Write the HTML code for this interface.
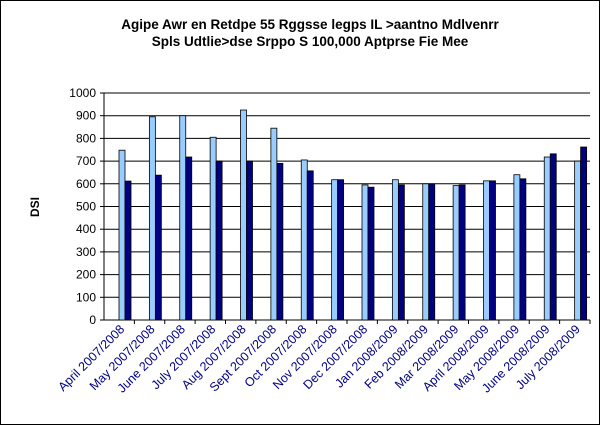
<!DOCTYPE html>
<html><head><meta charset="utf-8"><style>
html,body{margin:0;padding:0;background:#fff}
svg{display:block;font-family:"Liberation Sans",Arial,sans-serif}
</style></head><body>
<svg id="c" width="600" height="425">
<rect x="0.5" y="0.5" width="599" height="424" fill="#fff" stroke="#000"/>
<text x="310" y="29" text-anchor="middle" font-size="13.5" font-weight="bold">Agipe Awr en Retdpe 55 Rggsse legps IL &gt;aantno Mdlvenrr</text>
<text x="310" y="46" text-anchor="middle" font-size="13.5" font-weight="bold">Spls Udtlie&gt;dse Srppo S 100,000 Aptprse Fie Mee</text>
<text transform="translate(39,207) rotate(-90)" text-anchor="middle" font-size="12" font-weight="bold">DSI</text>
<g id="g"></g>
</svg>
<script>
const categories=["April 2007/2008","May 2007/2008","June 2007/2008","July 2007/2008","Aug 2007/2008","Sept 2007/2008","Oct 2007/2008","Nov 2007/2008","Dec 2007/2008","Jan 2008/2009","Feb 2008/2009","Mar 2008/2009","April 2008/2009","May 2008/2009","June 2008/2009","July 2008/2009"];
const seriesA=[748,895,900,805,925,845,705,618,595,618,600,592,613,640,718,700];
const seriesB=[612,638,718,700,700,690,657,618,585,595,600,595,613,622,732,762];
const yTicks=[0,100,200,300,400,500,600,700,800,900,1000];
const NS="http://www.w3.org/2000/svg",g=document.getElementById('g');
const x0=104,x1=590,y0=320,y1=93,cw=(x1-x0)/categories.length;
const y=v=>y0-(v/1000)*(y0-y1);
function mk(t,a){const e=document.createElementNS(NS,t);for(const k in a)e.setAttribute(k,a[k]);g.appendChild(e);return e;}
yTicks.forEach(v=>{
 if(v>0){const l=mk('line',{x1:x0,x2:x1,y1:y(v),y2:y(v),stroke:'#000'});
 
 }
 const tk=mk('line',{x1:x0-4,x2:x0,y1:y(v),y2:y(v),stroke:'#000'});
 
 
 const t=mk('text',{x:x0-8,y:y(v)+4,'text-anchor':'end','font-size':12});t.textContent=v;
 
 
});
const ya=mk('line',{x1:x0,x2:x0,y1:y1,y2:y0,stroke:'#000'});


const xa=mk('line',{x1:x0,x2:x1,y1:y0,y2:y0,stroke:'#000'});


categories.forEach((c,i)=>{
 const cx=x0+i*cw;
 const tk=mk('line',{x1:cx+cw,x2:cx+cw,y1:y0,y2:y0+4,stroke:'#000'});
 
 
 const a=mk('rect',{x:cx+15,y:y(seriesA[i]),width:6,height:y0-y(seriesA[i]),fill:'#99ccff',stroke:'#000','stroke-width':0.8});
 
 
 const b=mk('rect',{x:cx+21,y:y(seriesB[i]),width:6,height:y0-y(seriesB[i]),fill:'#000080',stroke:'#000','stroke-width':0.8});
 
 
 const t=mk('text',{transform:`translate(${cx+cw/2+6},${y0+10}) rotate(-45)`,'text-anchor':'end','font-size':12.5,fill:'#000080'});
 t.textContent=c;
 
 
});
</script>
</body></html>
